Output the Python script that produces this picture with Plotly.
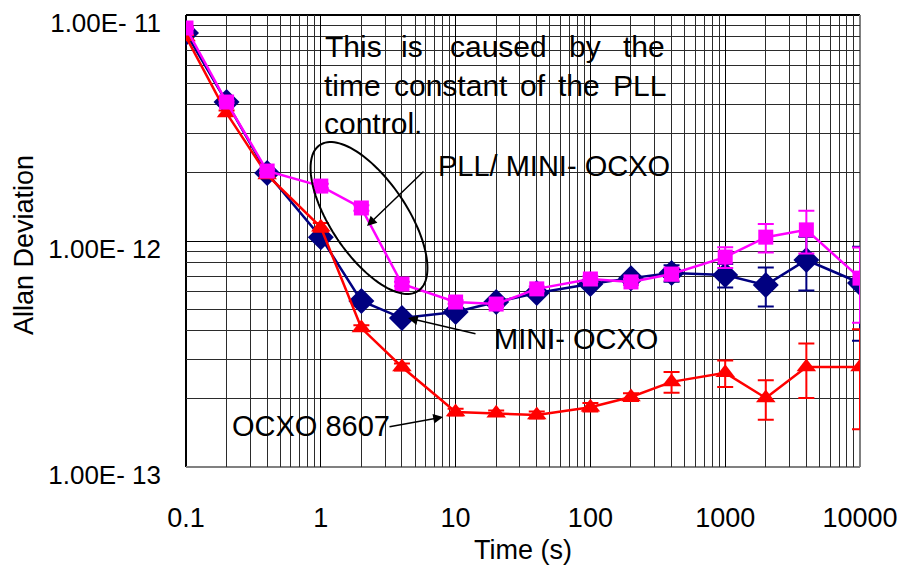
import numpy as np
import plotly.graph_objects as go

# Averaging time (s)
tau = [0.1, 0.2, 0.4, 1, 2, 4, 10, 20, 40, 100, 200, 400, 1000, 2000, 4000, 10000]

# MINI-OCXO
mini_ocxo = [8.32e-12, 4.12e-12, 2.00e-12, 1.04e-12, 5.43e-13, 4.56e-13, 4.85e-13, 5.37e-13,
             5.89e-13, 6.45e-13, 6.85e-13, 7.21e-13, 7.07e-13, 6.38e-13, 8.24e-13, 6.52e-13]
mini_ocxo_err = [1.0e-13, 5.0e-14, 3.0e-14, 2.0e-14, 1.0e-14, 5.0e-15, 5.0e-15, 1.0e-14,
                 1.5e-14, 2.0e-14, 3.0e-14, 6.0e-14, 8.5e-14, 1.25e-13, 2.2e-13, 2.9e-13]

# PLL / MINI-OCXO
pll_mini = [8.76e-12, 4.12e-12, 2.04e-12, 1.75e-12, 1.40e-12, 6.45e-13, 5.37e-13, 5.26e-13,
            6.14e-13, 6.79e-13, 6.59e-13, 7.14e-13, 8.49e-13, 1.04e-12, 1.12e-12, 6.85e-13]
pll_mini_err = [1.0e-13, 5.0e-14, 3.0e-14, 4.0e-14, 4.0e-14, 1.5e-14, 1.0e-14, 1.0e-14,
                1.5e-14, 2.0e-14, 2.0e-14, 4.5e-14, 9.0e-14, 1.5e-13, 2.4e-13, 2.5e-13]

# OCXO 8607
ocxo_8607 = [8.0e-12, 3.68e-12, 1.96e-12, 1.15e-12, 4.12e-13, 2.77e-13, 1.75e-13, 1.73e-13,
             1.70e-13, 1.84e-13, 2.04e-13, 2.38e-13, 2.61e-13, 2.02e-13, 2.77e-13, 2.77e-13]
ocxo_8607_err = [1.5e-13, 1.0e-13, 3.0e-14, 5.0e-14, 1.2e-14, 1.0e-14, 6.0e-15, 5.0e-15,
                 6.0e-15, 8.0e-15, 8.0e-15, 2.5e-14, 3.5e-14, 4.0e-14, 7.5e-14, 1.3e-13]

x_tick_vals = [0.1, 1, 10, 100, 1000, 10000]
x_tick_text = ["0.1", "1", "10", "100", "1000", "10000"]
y_tick_vals = [1e-13, 1e-12, 1e-11]
y_tick_text = ["1.00E- 13", "1.00E- 12", "1.00E- 11"]

x_minor = [m * 10.0 ** e for e in range(-1, 4) for m in range(2, 10)]
y_minor = [m * 10.0 ** e for e in range(-13, -11) for m in range(2, 10)]

FONT = "Liberation Sans, Arial, sans-serif"

# Page geometry (pixels) and helpers to place labels in paper space
W, H = 902, 567
ML, MR, MT, MB = 186, 42, 15, 100
PW, PH = W - ML - MR, H - MT - MB


def px(x):
    return (x - ML) / PW


def py(y):
    return (H - MB - y) / PH


fig = go.Figure()

series = [
    ("MINI-OCXO", mini_ocxo, mini_ocxo_err, "#000080", "diamond", 20),
    ("OCXO 8607", ocxo_8607, ocxo_8607_err, "#FF0000", "triangle-up", 17),
    ("PLL/MINI-OCXO", pll_mini, pll_mini_err, "#FF00FF", "square", 15),
]
for name, vals, errs, color, symbol, size in series:
    fig.add_trace(go.Scatter(
        x=tau, y=vals, name=name, mode="lines+markers",
        line=dict(color=color, width=2.5),
        marker=dict(symbol=symbol, size=size, color=color),
        error_y=dict(type="data", array=errs, visible=True,
                     color=color, thickness=2, width=8),
        showlegend=False,
    ))

# White label backgrounds (between the grid and the data)
boxes = [(310, 15, 680, 147), (427, 137, 685, 188), (477, 310, 677, 360), (217, 397, 407, 450)]
shapes = []
for x0, y0, x1, y1 in boxes:
    shapes.append(dict(type="rect", xref="paper", yref="paper",
                       x0=px(x0), x1=px(x1), y0=py(y1), y1=py(y0),
                       fillcolor="white", line=dict(width=0), layer="between"))

# Plot-area frame
frame = [((ML, MT), (ML, H - MB), "black"), ((ML, MT), (W - MR, MT), "black"),
         ((ML, H - MB), (W - MR, H - MB), "#808080"), ((W - MR, MT), (W - MR, H - MB), "#808080")]
for (xa, ya), (xb, yb), c in frame:
    shapes.append(dict(type="line", xref="paper", yref="paper",
                       x0=px(xa), y0=py(ya), x1=px(xb), y1=py(yb),
                       line=dict(color=c, width=2), layer="between"))

# Tilted ellipse around the PLL loop region
cx, cy, a, b, th = 369, 218, 88, 38, np.radians(56)
t = np.linspace(0, 2 * np.pi, 121)
ex = cx + a * np.cos(t) * np.cos(th) - b * np.sin(t) * np.sin(th)
ey = cy + a * np.cos(t) * np.sin(th) + b * np.sin(t) * np.cos(th)
path = "M " + " L ".join(f"{px(u):.5f},{py(v):.5f}" for u, v in zip(ex, ey)) + " Z"
shapes.append(dict(type="path", xref="paper", yref="paper", path=path,
                   line=dict(color="black", width=2), layer="above"))

annotations = []


def label(text, x, y, size=30, xanchor="left"):
    annotations.append(dict(text=text, x=px(x), y=py(y), xref="paper", yref="paper",
                            xanchor=xanchor, yanchor="middle", showarrow=False,
                            font=dict(family=FONT, size=size, color="black")))


# Justified note text
for word, x in [("This", 323), ("is", 399), ("caused", 448), ("by", 567), ("the", 621)]:
    label(word, x, 46)
for word, x in [("time", 322), ("constant", 392), ("of", 518), ("the", 556), ("PLL", 611)]:
    label(word, x, 85)
label("control.", 322, 123)

label("PLL/ MINI- OCXO", 554, 166, size=29, xanchor="center")
label("MINI- OCXO", 576, 339, size=29, xanchor="center")
label("OCXO 8607", 311, 426, size=29, xanchor="center")


def arrow(hx, hy, tx, ty):
    annotations.append(dict(text="", x=px(hx), y=py(hy), xref="paper", yref="paper",
                            ax=tx - hx, ay=ty - hy, showarrow=True, arrowhead=2,
                            arrowsize=1.3, arrowwidth=1.5, arrowcolor="black", standoff=0))


arrow(367, 226, 425, 170)
arrow(408, 318, 477, 334)
arrow(443, 417, 388, 427)

# Axis titles
annotations.append(dict(text="Allan Deviation", x=px(24), y=py(245), xref="paper", yref="paper",
                        textangle=-90, showarrow=False, xanchor="center", yanchor="middle",
                        font=dict(family=FONT, size=27, color="black")))
annotations.append(dict(text="Time (s)", x=px(523), y=py(550), xref="paper", yref="paper",
                        showarrow=False, xanchor="center", yanchor="middle",
                        font=dict(family=FONT, size=27, color="black")))

fig.update_layout(
    width=W, height=H,
    margin=dict(l=ML, r=MR, t=MT, b=MB, pad=0, autoexpand=False),
    paper_bgcolor="white", plot_bgcolor="white",
    shapes=shapes, annotations=annotations,
    xaxis=dict(type="log", range=[-1, 4], tickvals=x_tick_vals, ticktext=x_tick_text,
               showgrid=True, gridcolor="black", gridwidth=1.3,
               minor=dict(tickvals=x_minor, showgrid=True, gridcolor="#2b2b2b", gridwidth=1),
               showline=False, zeroline=False, ticks="", automargin=False,
               ticklabelstandoff=32, ticklabeloverflow="allow",
               tickfont=dict(family=FONT, size=27, color="black")),
    xaxis2=dict(type="log", range=[-1, 4], overlaying="x", side="top",
                tickvals=x_tick_vals, showticklabels=False, ticks="outside",
                ticklen=8, tickwidth=1.5, tickcolor="black", automargin=False,
                showgrid=False, showline=False, zeroline=False),
    yaxis=dict(type="log", range=[-13.00001, -10.99999], tickvals=y_tick_vals, ticktext=y_tick_text,
               showgrid=True, gridcolor="black", gridwidth=1.3,
               minor=dict(tickvals=y_minor, showgrid=True, gridcolor="#2b2b2b", gridwidth=1),
               showline=False, zeroline=False, ticks="", automargin=False,
               ticklabelstandoff=24, ticklabelshift=8, ticklabeloverflow="allow",
               tickfont=dict(family=FONT, size=26, color="black")),
)

fig.write_html("out.html")
